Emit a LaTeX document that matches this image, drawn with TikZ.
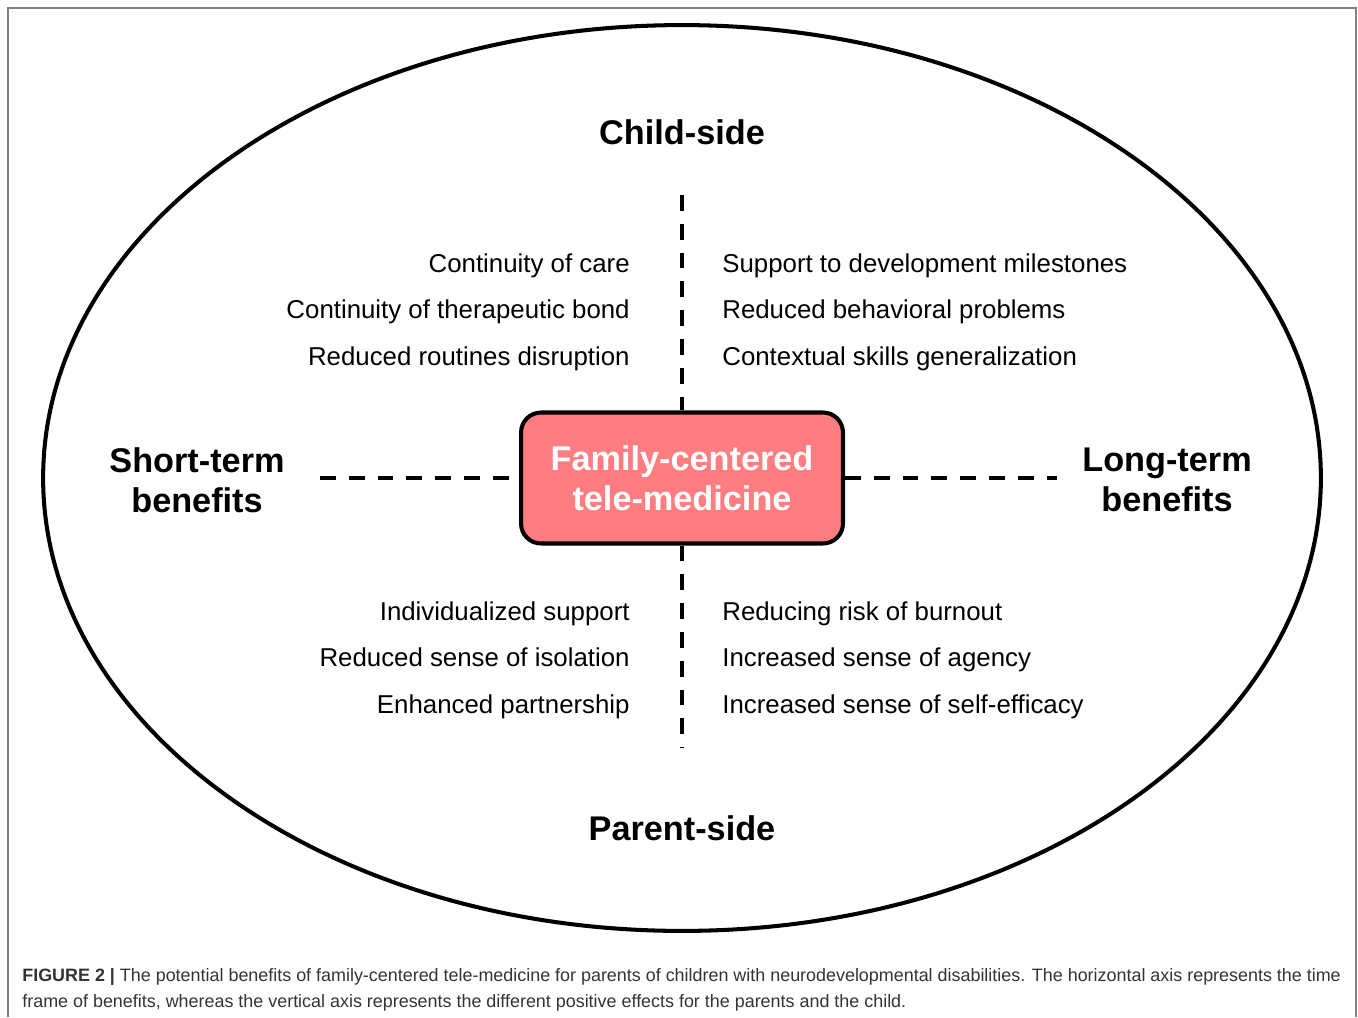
\documentclass[tikz,border=0pt]{standalone}
\usepackage{fontspec}
\setmainfont{Liberation Sans}
\definecolor{famred}{HTML}{FF7C80}
\definecolor{framegray}{HTML}{808080}
\definecolor{capgray}{HTML}{333333}

\begin{document}
\begin{tikzpicture}[x=0.02cm, y=-0.02cm,
  axisline/.style={line width=2.4pt, dash pattern=on 9pt off 7.4pt},
  sidelabel/.style={font=\fontsize{19.5}{23}\selectfont\bfseries, align=center, inner sep=0pt},
  leftitem/.style={anchor=base east, font=\fontsize{14.7}{17}\selectfont, inner sep=0pt},
  rightitem/.style={anchor=base west, font=\fontsize{14.7}{17}\selectfont, inner sep=0pt},
  capline/.style={anchor=base west, font=\fontsize{10.2}{12}\selectfont, text=capgray, inner sep=0pt}]
\useasboundingbox (0,0) rectangle (1358,1017);
\draw[framegray, line width=0.8pt] (8,1017) -- (8,8) -- (1356,8) -- (1356,1017);
\draw[line width=2.3pt] (682,478) ellipse [x radius=12.78cm, y radius=9.06cm];

\node[draw, line width=2.3pt, fill=famred, rounded corners=0.4cm, minimum width=6.44cm, minimum height=2.62cm,
  text=white, font=\fontsize{19.5}{22.7}\selectfont\bfseries, align=center] (fam) at (682,478) {Family-centered\\tele-medicine};

\node[sidelabel] (child) at (682,132) {Child-side};
\node[sidelabel] (parent) at (682,828) {Parent-side};
\node[sidelabel] (short) at (197,480) {Short-term\\benefits};
\node[sidelabel] (long) at (1167,480) {Long-term\\benefits};

\coordinate (hl) at (320,478);
\coordinate (hr) at (1057,478);
\coordinate (vt) at (682,195);
\coordinate (vb) at (682,748);
\draw[axisline] (hl) -- (fam.west);
\draw[axisline] (fam.east) -- (hr);
\draw[axisline] (vt) -- (fam.north);
\draw[axisline] (fam.south) -- (vb);

\node[leftitem] (cs1) at (630,272) {Continuity of care};
\node[leftitem] (cs2) at (630,318) {Continuity of therapeutic bond};
\node[leftitem] (cs3) at (630,365) {Reduced routines disruption};
\node[rightitem] (cl1) at (722,272) {Support to development milestones};
\node[rightitem] (cl2) at (722,318) {Reduced behavioral problems};
\node[rightitem] (cl3) at (722,365) {Contextual skills generalization};

\node[leftitem] (ps1) at (630,620) {Individualized support};
\node[leftitem] (ps2) at (630,666) {Reduced sense of isolation};
\node[leftitem] (ps3) at (630,713) {Enhanced partnership};
\node[rightitem] (pl1) at (722,620) {Reducing risk of burnout};
\node[rightitem] (pl2) at (722,666) {Increased sense of agency};
\node[rightitem] (pl3) at (722,713) {Increased sense of self-efficacy};

\node[capline] (cap1) at (22,981) {\textbf{FIGURE 2 |} The potential benefits of family-centered tele-medicine for parents of children with neurodevelopmental disabilities. The horizontal axis represents the time};
\node[capline] (cap2) at (22,1007) {frame of benefits, whereas the vertical axis represents the different positive effects for the parents and the child.};
\end{tikzpicture}
\end{document}
